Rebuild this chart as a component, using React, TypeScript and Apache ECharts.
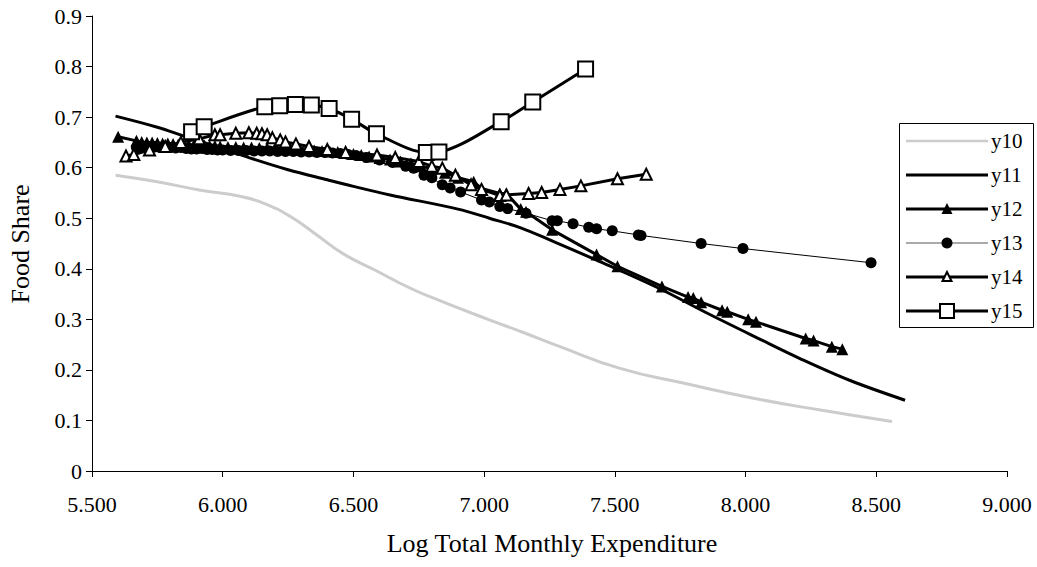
import React, { useEffect, useRef } from "react";
import * as echarts from "echarts";

const xTicks = [5.5, 6.0, 6.5, 7.0, 7.5, 8.0, 8.5, 9.0];
const legendNames = ["y10", "y11", "y12", "y13", "y14", "y15"];

const y10X = [5.59, 5.75, 5.91, 6.07, 6.16, 6.26, 6.36, 6.46, 6.58, 6.72, 6.84, 7.02, 7.15, 7.29, 7.52, 7.77, 8.03, 8.28, 8.56];
const y10Y = [0.585, 0.572, 0.556, 0.543, 0.529, 0.503, 0.467, 0.43, 0.398, 0.361, 0.335, 0.299, 0.274, 0.246, 0.203, 0.173, 0.144, 0.121, 0.098];

const y11X = [5.59, 5.75, 5.86, 6.0, 6.1, 6.25, 6.4, 6.5, 6.64, 6.9, 7.02, 7.14, 7.26, 7.43, 7.67, 7.85, 8.05, 8.21, 8.4, 8.61];
const y11Y = [0.702, 0.68, 0.661, 0.638, 0.62, 0.596, 0.576, 0.563, 0.546, 0.518, 0.5, 0.481, 0.455, 0.417, 0.361, 0.313, 0.262, 0.222, 0.179, 0.14];

const y12X = [5.6, 5.67, 5.69, 5.71, 5.73, 5.75, 5.77, 5.79, 5.81, 5.83, 5.85, 5.87, 5.89, 5.91, 5.93, 5.95, 5.97, 5.99, 6.02, 6.05, 6.08, 6.11, 6.14, 6.17, 6.2, 6.23, 6.26, 6.29, 6.32, 6.35, 6.38, 6.41, 6.44, 6.47, 6.5, 6.53, 6.56, 6.6, 6.64, 6.68, 6.72, 6.76, 6.8, 6.85, 6.9, 6.96, 6.99, 7.06, 7.085, 7.14, 7.16, 7.26, 7.43, 7.51, 7.68, 7.78, 7.8, 7.83, 7.91, 7.93, 8.01, 8.04, 8.23, 8.26, 8.33, 8.37];
const y12Y = [0.661, 0.653, 0.651, 0.65, 0.65, 0.649, 0.648, 0.648, 0.647, 0.646, 0.646, 0.645, 0.645, 0.644, 0.644, 0.643, 0.643, 0.642, 0.641, 0.641, 0.64, 0.64, 0.639, 0.639, 0.638, 0.637, 0.637, 0.636, 0.635, 0.634, 0.633, 0.632, 0.631, 0.629, 0.627, 0.625, 0.622, 0.619, 0.616, 0.612, 0.608, 0.603, 0.598, 0.59, 0.58, 0.572, 0.559, 0.549, 0.549, 0.518, 0.513, 0.477, 0.428, 0.405, 0.365, 0.344, 0.342, 0.334, 0.318, 0.315, 0.3, 0.295, 0.262, 0.258, 0.246, 0.241];

const y13X = [5.67, 5.7, 5.72, 5.74, 5.76, 5.78, 5.8, 5.82, 5.84, 5.86, 5.88, 5.9, 5.92, 5.94, 5.96, 5.98, 6.0, 6.03, 6.06, 6.09, 6.12, 6.15, 6.18, 6.21, 6.24, 6.27, 6.3, 6.33, 6.36, 6.39, 6.42, 6.45, 6.48, 6.51, 6.55, 6.6, 6.65, 6.7, 6.73, 6.77, 6.8, 6.84, 6.87, 6.91, 6.99, 7.02, 7.06, 7.09, 7.16, 7.26, 7.28, 7.34, 7.4, 7.43, 7.49, 7.59, 7.6, 7.83, 7.99, 8.48];
const y13Y = [0.64, 0.641, 0.64, 0.641, 0.64, 0.641, 0.64, 0.639, 0.64, 0.638, 0.637, 0.637, 0.638, 0.636, 0.636, 0.635, 0.635, 0.634, 0.634, 0.634, 0.633, 0.633, 0.633, 0.632, 0.632, 0.632, 0.631, 0.631, 0.63, 0.63, 0.629, 0.628, 0.626, 0.624, 0.62, 0.615, 0.61, 0.603, 0.599, 0.585, 0.58, 0.566, 0.56, 0.552, 0.536, 0.532, 0.523, 0.519, 0.51, 0.495, 0.495, 0.489, 0.482, 0.479, 0.475, 0.467, 0.466, 0.45, 0.44, 0.412];

const y14X = [5.63, 5.66, 5.72, 5.78, 5.84, 5.91, 5.97, 5.99, 6.05, 6.1, 6.13, 6.15, 6.17, 6.19, 6.22, 6.24, 6.28, 6.33, 6.4, 6.47, 6.59, 6.66, 6.75, 6.8, 6.84, 6.89, 6.95, 6.99, 7.06, 7.085, 7.17, 7.22, 7.29, 7.37, 7.51, 7.62];
const y14Y = [0.623, 0.626, 0.635, 0.642, 0.65, 0.657, 0.665, 0.665, 0.668, 0.669, 0.668, 0.667, 0.665, 0.659, 0.655, 0.651, 0.647, 0.642, 0.636, 0.63, 0.625, 0.62, 0.612, 0.603, 0.599, 0.585, 0.566, 0.557, 0.545, 0.546, 0.549, 0.551, 0.557, 0.564, 0.578, 0.587];

const y15X = [5.881, 5.929, 6.161, 6.218, 6.278, 6.339, 6.407, 6.493, 6.588, 6.779, 6.827, 7.065, 7.186, 7.388];
const y15Y = [0.671, 0.681, 0.7205, 0.7225, 0.725, 0.724, 0.717, 0.696, 0.667, 0.63, 0.631, 0.691, 0.73, 0.795];

const zip = (xs: number[], ys: number[]) => xs.map((x, i) => [x, ys[i]]);

const FONT = "Liberation Serif, Times New Roman, serif";
const BLACK = "#000";
const GRAY = "#cccccc";

function legendGraphics() {
  const boxL = 899, boxT = 123, boxR = 1033, boxB = 327;
  const lineL = 906, lineR = 988, symX = 947, textX = 991;
  const rowY = [141, 175, 209, 243, 277, 311];
  const els: any[] = [
    {
      type: "rect",
      shape: { x: boxL + 0.5, y: boxT + 0.5, width: boxR - boxL, height: boxB - boxT },
      style: { fill: "#fff", stroke: BLACK, lineWidth: 1 },
      z: 10,
    },
  ];
  const lineStyles = [
    { stroke: GRAY, lineWidth: 2.5 },
    { stroke: BLACK, lineWidth: 3 },
    { stroke: BLACK, lineWidth: 3 },
    { stroke: "#555", lineWidth: 1.2 },
    { stroke: BLACK, lineWidth: 3 },
    { stroke: BLACK, lineWidth: 3 },
  ];
  legendNames.forEach((name, i) => {
    const y = rowY[i];
    els.push({
      type: "line",
      shape: { x1: lineL, y1: y, x2: lineR, y2: y },
      style: lineStyles[i],
      z: 11,
    });
    if (i === 2) {
      els.push({
        type: "polygon",
        shape: { points: [[symX, y - 6], [symX - 5.5, y + 5], [symX + 5.5, y + 5]] },
        style: { fill: BLACK },
        z: 12,
      });
    } else if (i === 3) {
      els.push({ type: "circle", shape: { cx: symX, cy: y, r: 5.5 }, style: { fill: BLACK }, z: 12 });
    } else if (i === 4) {
      els.push({
        type: "polygon",
        shape: { points: [[symX, y - 5], [symX - 4.5, y + 4], [symX + 4.5, y + 4]] },
        style: { fill: "#fff", stroke: BLACK, lineWidth: 2 },
        z: 12,
      });
    } else if (i === 5) {
      els.push({
        type: "rect",
        shape: { x: symX - 7, y: y - 7, width: 14, height: 14 },
        style: { fill: "#fff", stroke: BLACK, lineWidth: 2 },
        z: 12,
      });
    }
    els.push({
      type: "text",
      x: textX,
      y: y,
      style: { text: name, fontFamily: FONT, fontSize: 21, fill: BLACK, align: "left", verticalAlign: "middle" },
      z: 12,
    });
  });
  return els;
}

export default function App() {
  const ref = useRef<HTMLDivElement>(null);
  useEffect(() => {
    if (!ref.current) return;
    const chart = echarts.init(ref.current, undefined, { renderer: "svg" });
    chart.setOption({
      animation: false,
      backgroundColor: "#fff",
      textStyle: { fontFamily: FONT },
      grid: { left: 92, right: 30, top: 16, bottom: 96, containLabel: false },
      graphic: [
        {
          type: "text",
          x: 552,
          y: 543,
          style: {
            text: "Log Total Monthly Expenditure",
            fontFamily: FONT,
            fontSize: 26,
            fill: BLACK,
            align: "center",
            verticalAlign: "middle",
          },
        },
        {
          type: "text",
          x: 20,
          y: 244,
          rotation: Math.PI / 2,
          style: {
            text: "Food Share",
            fontFamily: FONT,
            fontSize: 26,
            fill: BLACK,
            align: "center",
            verticalAlign: "middle",
          },
        },
        ...legendGraphics(),
      ],
      xAxis: {
        type: "value",
        min: xTicks[0],
        max: xTicks[xTicks.length - 1],
        interval: 0.5,
        axisLine: { lineStyle: { color: BLACK, width: 1 } },
        axisTick: { show: true, length: 6, lineStyle: { color: BLACK } },
        axisLabel: {
          color: BLACK,
          fontFamily: FONT,
          fontSize: 22,
          margin: 22,
          formatter: (v: number) => v.toFixed(3),
        },
        splitLine: { show: false },
      },
      yAxis: {
        type: "value",
        min: 0,
        max: 0.9,
        interval: 0.1,
        axisLine: { show: true, lineStyle: { color: BLACK, width: 1 } },
        axisTick: { show: true, length: 6, lineStyle: { color: BLACK } },
        axisLabel: {
          color: BLACK,
          fontFamily: FONT,
          fontSize: 22,
          margin: 10,
          formatter: (v: number) => (Math.abs(v) < 1e-9 ? "0" : v.toFixed(1)),
        },
        splitLine: { show: false },
      },
      series: [
        {
          name: "y10",
          type: "line",
          data: zip(y10X, y10Y),
          smooth: true,
          symbol: "none",
          lineStyle: { color: GRAY, width: 3 },
        },
        {
          name: "y11",
          type: "line",
          data: zip(y11X, y11Y),
          smooth: 0.35,
          symbol: "none",
          lineStyle: { color: BLACK, width: 3 },
        },
        {
          name: "y12",
          type: "line",
          data: zip(y12X, y12Y),
          symbol: "triangle",
          symbolSize: 12,
          lineStyle: { color: BLACK, width: 3 },
          itemStyle: { color: BLACK },
        },
        {
          name: "y13",
          type: "line",
          data: zip(y13X, y13Y),
          symbol: "circle",
          symbolSize: 11,
          lineStyle: { color: BLACK, width: 1 },
          itemStyle: { color: BLACK },
        },
        {
          name: "y14",
          type: "line",
          data: zip(y14X, y14Y),
          symbol: "triangle",
          symbolSize: 11,
          lineStyle: { color: BLACK, width: 3 },
          itemStyle: { color: "#fff", borderColor: BLACK, borderWidth: 2 },
        },
        {
          name: "y15",
          type: "line",
          data: zip(y15X, y15Y),
          smooth: 0.3,
          symbol: "rect",
          symbolSize: 15,
          lineStyle: { color: BLACK, width: 3 },
          itemStyle: { color: "#fff", borderColor: BLACK, borderWidth: 2 },
        },
      ],
    });
    return () => chart.dispose();
  }, []);
  return (
    <div
      ref={ref}
      style={{ position: "fixed", left: 0, top: 0, width: 1037, height: 567 }}
    />
  );
}
